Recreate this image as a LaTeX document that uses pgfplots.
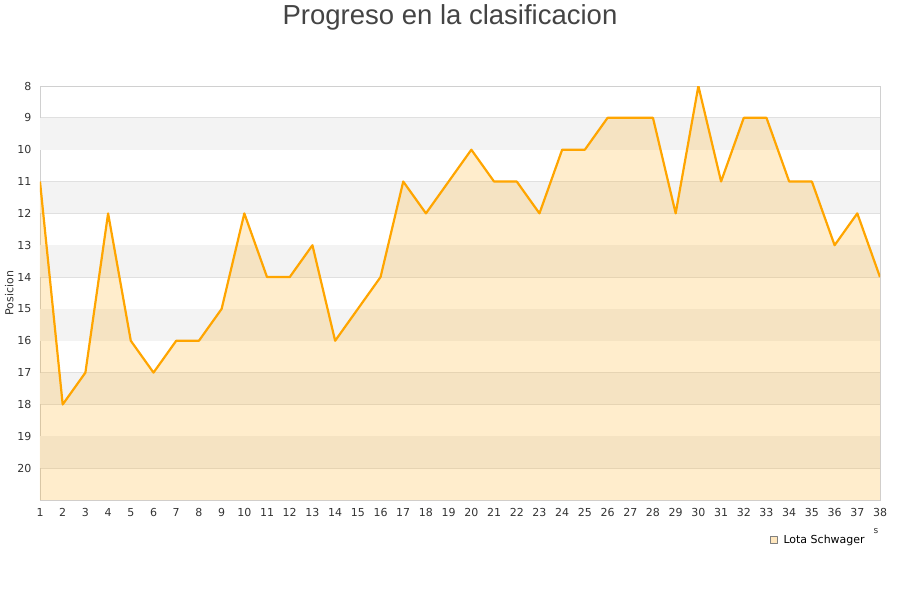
\documentclass[border=0pt]{standalone}
\usepackage{fontspec}
\setmainfont{DejaVu Sans}
\newfontfamily\titlefont{Liberation Sans}
\usepackage{pgfplots}
\pgfplotsset{compat=1.18}

\definecolor{lineorange}{RGB}{255,165,0}
\definecolor{bandgray}{RGB}{243,243,243}
\definecolor{gridgray}{RGB}{224,224,224}
\definecolor{framegray}{RGB}{208,208,208}
\definecolor{ticktext}{RGB}{51,51,51}

\begin{document}
\begin{tikzpicture}
\begin{axis}[
    scale only axis,
    width=840pt,
    height=414pt,
    xmin=1, xmax=38,
    ymin=8, ymax=21,
    y dir=reverse,
    xtick={1,...,38},
    ytick={8,...,20},
    tick style={draw=none},
    ticklabel style={font=\fontsize{11}{13}\selectfont, text=ticktext},
    xticklabel style={yshift=-5pt},
    yticklabel style={xshift=-5pt},
    /pgf/number format/assume math mode=true,
    ymajorgrids,
    grid style={draw=gridgray, line width=0.8pt},
    axis line style={draw=framegray, line width=0.8pt},
    ylabel={Posicion},
    ylabel style={font=\fontsize{11}{13}\selectfont, text=ticktext, yshift=-3pt},
    title={\titlefont Progreso en la clasificacion},
    title style={font=\fontsize{27.5}{32}\selectfont, text={rgb,255:red,68;green,68;blue,68},
        yshift=46pt, xshift=-10pt},
    legend style={at={(0.988,-0.075)}, anchor=north east, draw=none, fill=none,
        font=\fontsize{11}{13}\selectfont},
    legend image code/.code={
        \draw[fill={rgb,255:red,255;green,231;blue,190}, draw=gray, line width=0.5pt]
            (0pt,-3.5pt) rectangle (7pt,3.5pt);
        \path[draw=none, fill=none] (0pt,0pt) -- (11pt,0pt);
    },
    legend cell align=left,
    clip=true,
]
% alternating background bands
\pgfplotsinvokeforeach{9,11,13,15,17,19}{
    \fill[bandgray] (axis cs:1,#1) rectangle (axis cs:38,#1+1);
}
\addplot[fill=lineorange, fill opacity=0.2, draw=none, forget plot] coordinates {
    (1,21) (1,11) (2,18) (3,17) (4,12) (5,16) (6,17) (7,16) (8,16) (9,15) (10,12)
    (11,14) (12,14) (13,13) (14,16) (15,15) (16,14) (17,11) (18,12) (19,11) (20,10)
    (21,11) (22,11) (23,12) (24,10) (25,10) (26,9) (27,9) (28,9) (29,12) (30,8)
    (31,11) (32,9) (33,9) (34,11) (35,11) (36,13) (37,12) (38,14) (38,21)
};
\addplot[draw=lineorange, line width=2.2pt, line join=round] coordinates {
    (1,11) (2,18) (3,17) (4,12) (5,16) (6,17) (7,16) (8,16) (9,15) (10,12)
    (11,14) (12,14) (13,13) (14,16) (15,15) (16,14) (17,11) (18,12) (19,11) (20,10)
    (21,11) (22,11) (23,12) (24,10) (25,10) (26,9) (27,9) (28,9) (29,12) (30,8)
    (31,11) (32,9) (33,9) (34,11) (35,11) (36,13) (37,12) (38,14)
};
\addlegendentry{Lota Schwager}
\end{axis}
\node[font=\fontsize{9}{10}\selectfont, text=ticktext] at ([shift={(-4pt,-31pt)}]current axis.south east) {s};
\path[use as bounding box] ([shift={(-40pt,-100pt)}]current axis.south west)
    rectangle ([shift={(20pt,86pt)}]current axis.north east);
\end{tikzpicture}
\end{document}
